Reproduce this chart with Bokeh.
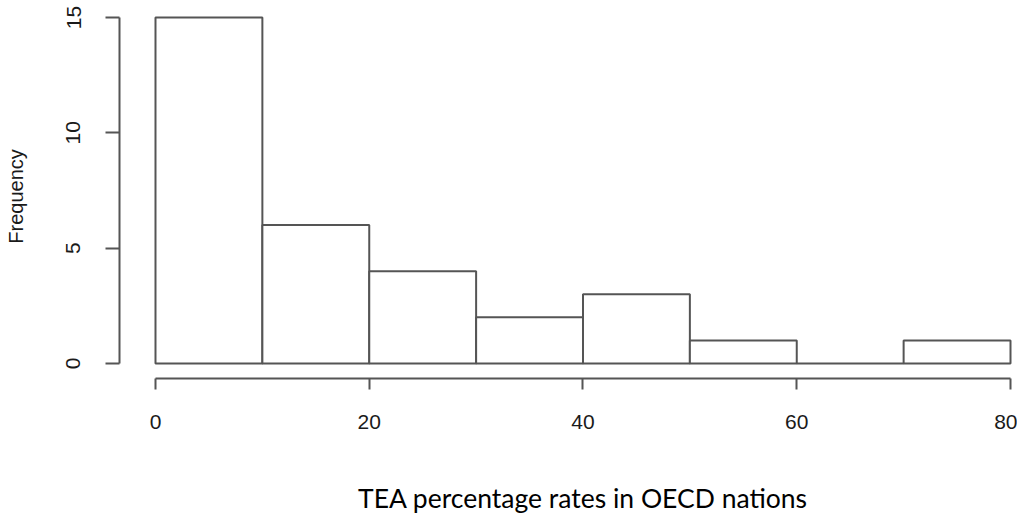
from bokeh.plotting import figure
from bokeh.models import Range1d, FixedTicker, ColumnDataSource
from bokeh.layouts import column
from bokeh.core.properties import value
from bokeh.embed import file_html
from bokeh.resources import INLINE

# Histogram data (TEA percentage rates in OECD nations)
bin_left = [0, 10, 20, 30, 40, 50, 60, 70]
bin_right = [10, 20, 30, 40, 50, 60, 70, 80]
counts = [15, 6, 4, 2, 3, 1, 0, 1]
x_ticks = [0, 20, 40, 60, 80]
y_ticks = [0, 5, 10, 15]
x_label = "TEA percentage rates in OECD nations"
y_label = "Frequency"

W = 1017
H_MAIN, H_LAB = 480, 35
LINE = "#555555"

x_range = Range1d(-3.368, 80.187)

p = figure(width=W, height=H_MAIN, output_backend="svg", toolbar_location=None,
           x_range=x_range, y_range=Range1d(-0.65, 15.13),
           min_border_left=119, min_border_right=5, min_border_top=14,
           min_border_bottom=102)

p.quad(left=bin_left, right=bin_right, top=counts, bottom=0,
       fill_color="white", line_color=LINE, line_width=2)

p.outline_line_color = None
p.xgrid.grid_line_color = None
p.ygrid.grid_line_color = None
p.background_fill_color = "white"
p.border_fill_color = "white"

for ax in (p.xaxis[0], p.yaxis[0]):
    ax.axis_line_color = LINE
    ax.axis_line_width = 2
    ax.major_tick_line_color = LINE
    ax.major_tick_line_width = 2
    ax.major_tick_in = 0
    ax.minor_tick_line_color = None
    ax.major_label_text_font = "Liberation Sans"
    ax.major_label_text_font_size = "21px"
    ax.major_label_text_color = "#1a1a1a"
    ax.axis_label_text_font_style = "normal"

xa = p.xaxis[0]
xa.ticker = FixedTicker(ticks=x_ticks)
xa.bounds = (x_ticks[0], x_ticks[-1])
xa.major_tick_out = 11
xa.major_label_standoff = 25

ya = p.yaxis[0]
ya.ticker = FixedTicker(ticks=y_ticks)
ya.bounds = (y_ticks[0], y_ticks[-1])
ya.major_tick_out = 14
ya.major_label_standoff = 25
ya.major_label_orientation = "vertical"
ya.axis_label = y_label
ya.axis_label_text_font = "Liberation Sans"
ya.axis_label_text_font_size = "20px"
ya.axis_label_text_color = "#1a1a1a"
ya.axis_label_standoff = 37

# strip below the plot carrying the x-axis title, sharing the x scale
p2 = figure(width=W, height=H_LAB, output_backend="svg", toolbar_location=None,
            x_range=x_range, y_range=Range1d(0, H_LAB),
            x_axis_location=None, y_axis_location=None,
            min_border_left=119, min_border_right=5, min_border_top=0,
            min_border_bottom=0)
p2.outline_line_color = None
p2.xgrid.grid_line_color = None
p2.ygrid.grid_line_color = None
p2.background_fill_color = "white"
p2.border_fill_color = "white"

lab_src = ColumnDataSource(dict(x=[(x_ticks[0] + x_ticks[-1]) / 2], y=[18],
                                text=[x_label]))
p2.text(x="x", y="y", text="text", source=lab_src,
        text_align="center", text_baseline="alphabetic",
        text_font=value("Lato"), text_font_size=value("26.5px"),
        text_color="black")

layout = column(p, p2, spacing=0)

open("out.html", "w").write(file_html(layout, INLINE))
